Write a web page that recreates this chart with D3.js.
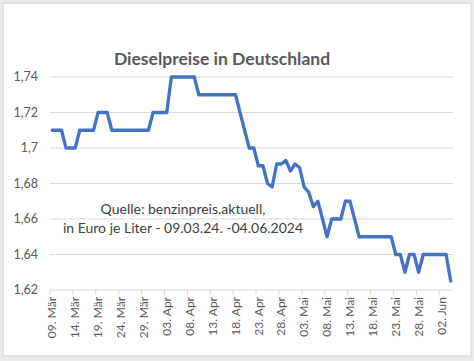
<!DOCTYPE html>
<html>
  <head>
    <script src="https://d3js.org/d3.v7.min.js"></script>
    <style>
      body { margin: 0; background: #ececec; }
      text { font-family: Lato, "Open Sans", sans-serif; }
    </style>
  </head>
  <body>
    <svg id="chart" width="474" height="361"></svg>
    <script>
      // Dieselpreis je Tag, 09.03.2024 - 04.06.2024
      const startDay = new Date(2024, 2, 9)
      const endDay = new Date(2024, 5, 5)
      const prices = [
        1.71, 1.71, 1.71, 1.70, 1.70, 1.70, 1.71, 1.71, 1.71, 1.71,
        1.72, 1.72, 1.72, 1.71, 1.71, 1.71, 1.71, 1.71, 1.71, 1.71,
        1.71, 1.71, 1.72, 1.72, 1.72, 1.72, 1.74, 1.74, 1.74, 1.74,
        1.74, 1.74, 1.73, 1.73, 1.73, 1.73, 1.73, 1.73, 1.73, 1.73,
        1.73, 1.72, 1.71, 1.70, 1.70, 1.69, 1.69, 1.68, 1.678, 1.691,
        1.691, 1.693, 1.687, 1.691, 1.689, 1.678, 1.675, 1.667, 1.67, 1.66,
        1.65, 1.66, 1.66, 1.66, 1.67, 1.67, 1.66, 1.65, 1.65, 1.65,
        1.65, 1.65, 1.65, 1.65, 1.65, 1.64, 1.64, 1.63, 1.64, 1.64,
        1.63, 1.64, 1.64, 1.64, 1.64, 1.64, 1.64, 1.625
      ]
      const yTicks = [1.62, 1.64, 1.66, 1.68, 1.70, 1.72, 1.74]
      const monthNames = ["Jan", "Feb", "Mär", "Apr", "Mai", "Jun"]
      const title = "Dieselpreise in Deutschland"
      const note = ["Quelle: benzinpreis.aktuell,", "in Euro je Liter - 09.03.24. -04.06.2024"]

      const days = d3.timeDay.range(startDay, endDay)
      const data = days.map((d, i) => ({ day: d, value: prices[i] }))

      const svg = d3.select("#chart")

      // chart frame
      svg.append("rect")
        .attr("x", 3).attr("y", 3)
        .attr("width", 468).attr("height", 353)
        .attr("fill", "white")
        .attr("stroke", "#d4d4d4")

      const plotLeft = 50, plotRight = 453, plotTop = 77, plotBottom = 290

      const x = d3.scaleBand()
        .domain(days.map((d, i) => i))
        .range([plotLeft, plotRight])

      const y = d3.scaleLinear()
        .domain([1.62, 1.74])
        .range([plotBottom, plotTop])

      const fmt = v => String(+v.toFixed(2)).replace(".", ",")

      // gridlines + y labels
      svg.append("g")
        .selectAll("line")
        .data(yTicks.slice(1))
        .enter()
        .append("line")
        .attr("x1", plotLeft).attr("x2", plotRight)
        .attr("y1", d => y(d)).attr("y2", d => y(d))
        .attr("stroke", "#d9d9d9")

      svg.append("g")
        .selectAll("text")
        .data(yTicks)
        .enter()
        .append("text")
        .attr("x", 38)
        .attr("y", d => y(d))
        .attr("dy", "0.35em")
        .attr("text-anchor", "end")
        .style("font-size", "12.5px")
        .attr("fill", "#595959")
        .text(fmt)

      // x axis
      const xAxis = svg.append("g")
      xAxis.append("line")
        .attr("x1", plotLeft).attr("x2", plotRight)
        .attr("y1", plotBottom).attr("y2", plotBottom)
        .attr("stroke", "#d9d9d9")

      const tickIdx = days.map((d, i) => i).filter(i => i % 5 === 0)

      xAxis.selectAll(".tick")
        .data(tickIdx)
        .enter()
        .append("line")
        .attr("x1", i => x(i)).attr("x2", i => x(i))
        .attr("y1", plotBottom).attr("y2", plotBottom + 5)
        .attr("stroke", "#d9d9d9")

      xAxis.selectAll(".lbl")
        .data(tickIdx)
        .enter()
        .append("text")
        .attr("transform", i => "translate(" + (x(i) + x.bandwidth() / 2) + "," + (plotBottom + 7) + ") rotate(-90)")
        .attr("dy", "0.35em")
        .attr("text-anchor", "end")
        .style("font-size", "12px")
        .attr("fill", "#595959")
        .text(i => d3.timeFormat("%d")(days[i]) + ". " + monthNames[days[i].getMonth()])

      // price line
      const line = d3.line()
        .x((d, i) => x(i) + x.bandwidth() / 2)
        .y(d => y(d.value))

      svg.append("path")
        .datum(data)
        .attr("d", line)
        .attr("fill", "none")
        .attr("stroke", "#4472c4")
        .attr("stroke-width", 3.3)
        .attr("stroke-linejoin", "round")
        .attr("stroke-linecap", "round")

      // title
      svg.append("text")
        .attr("x", 222)
        .attr("y", 65)
        .attr("text-anchor", "middle")
        .style("font-size", "17.5px")
        .style("font-weight", "bold")
        .attr("fill", "#595959")
        .text(title)

      // source note
      svg.append("g")
        .selectAll("text")
        .data(note)
        .enter()
        .append("text")
        .attr("x", 183)
        .attr("y", (d, i) => 214 + i * 19)
        .attr("text-anchor", "middle")
        .style("font-size", "14px")
        .attr("fill", "#404040")
        .text(d => d)
    </script>
  </body>
</html>
